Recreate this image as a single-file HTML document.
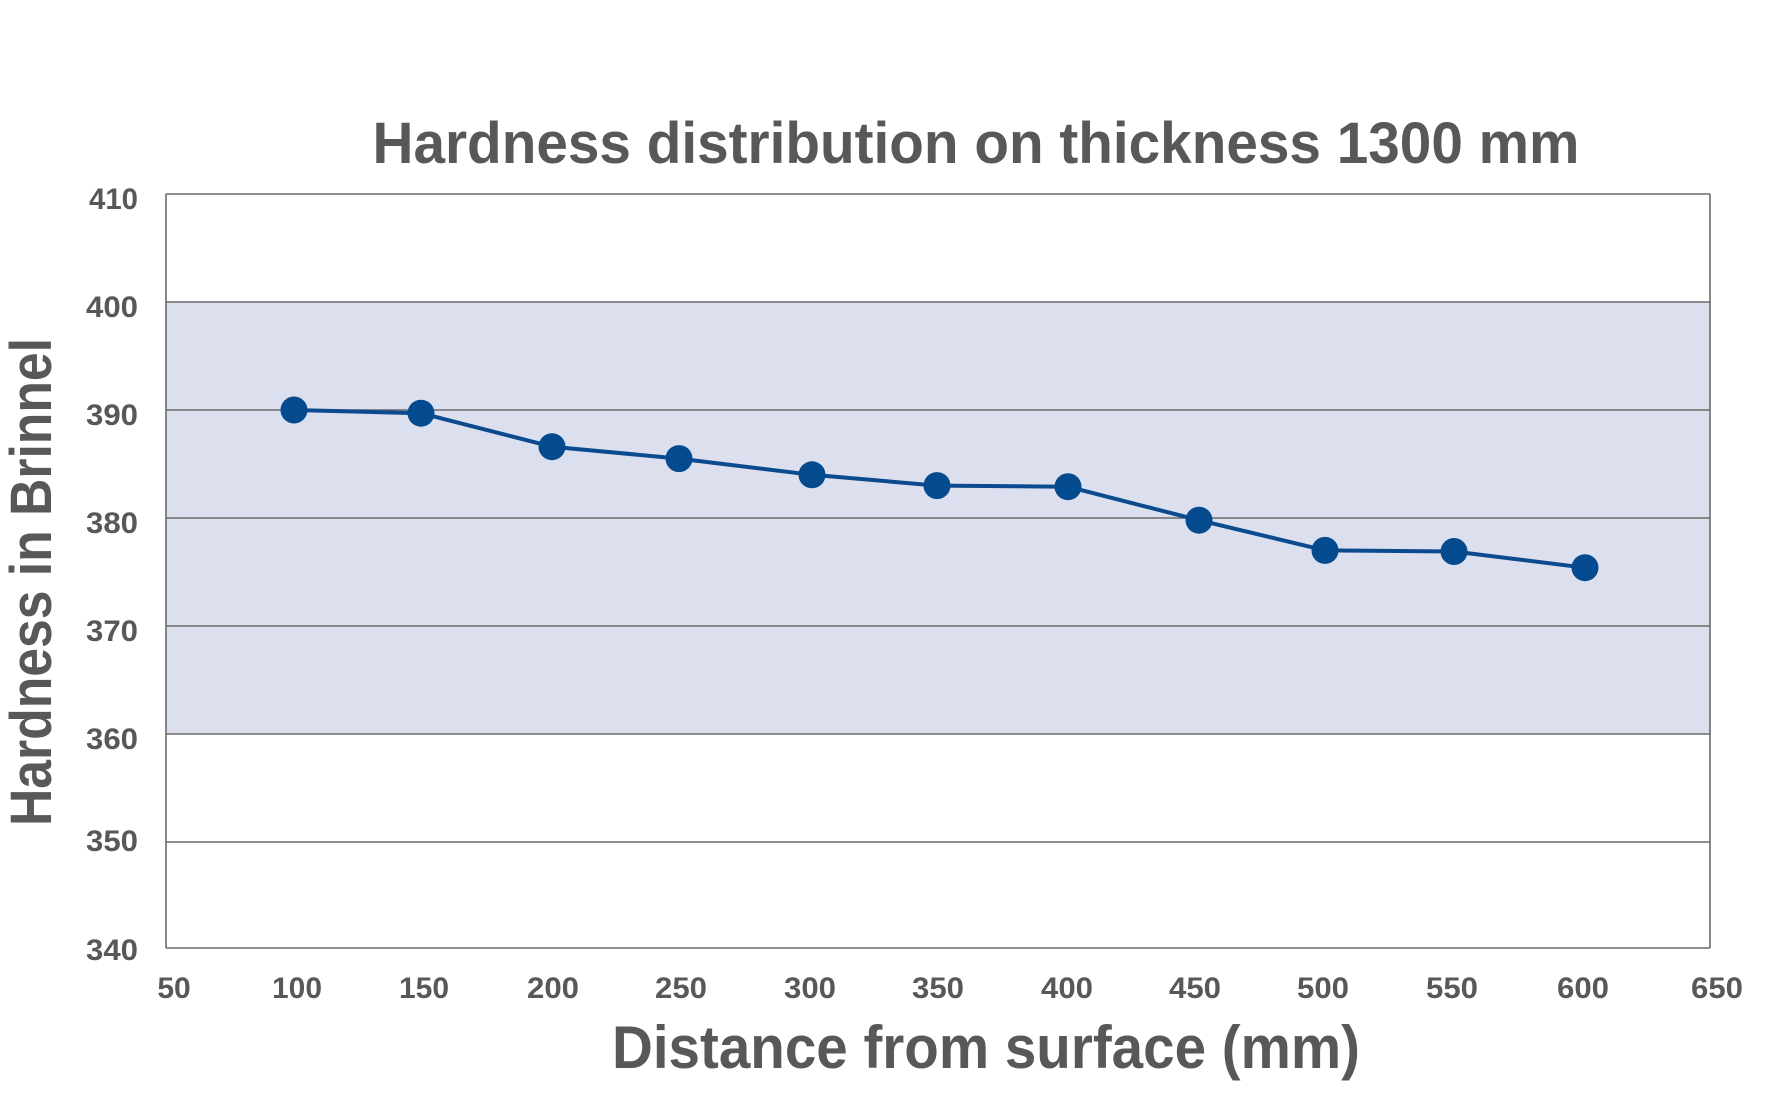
<!DOCTYPE html>
<html><head><meta charset="utf-8"><style>
html,body{margin:0;padding:0;background:#fff;}
svg{display:block;}
text{font-family:"Liberation Sans",sans-serif;font-weight:bold;fill:#58585a;}
</style></head><body>
<svg width="1771" height="1106" viewBox="0 0 1771 1106" xmlns="http://www.w3.org/2000/svg">
<rect x="166" y="302" width="1544" height="432" fill="#dcdfee"/>
<g stroke="#6a6a6a" stroke-width="1.6">
<line x1="166" y1="194" x2="1710" y2="194"/>
<line x1="166" y1="302" x2="1710" y2="302"/>
<line x1="166" y1="410" x2="1710" y2="410"/>
<line x1="166" y1="518" x2="1710" y2="518"/>
<line x1="166" y1="626" x2="1710" y2="626"/>
<line x1="166" y1="734" x2="1710" y2="734"/>
<line x1="166" y1="842" x2="1710" y2="842"/>
<line x1="166" y1="948" x2="1710" y2="948"/>
<line x1="166" y1="194" x2="166" y2="948"/>
<line x1="1710" y1="194" x2="1710" y2="948"/>
</g>
<text x="976" y="163" font-size="58" text-anchor="middle" textLength="1207" lengthAdjust="spacingAndGlyphs">Hardness distribution on thickness 1300 mm</text>
<g font-size="30" text-anchor="end">
<text x="138" y="209" textLength="49" lengthAdjust="spacingAndGlyphs">410</text>
<text x="138" y="317" textLength="52" lengthAdjust="spacingAndGlyphs">400</text>
<text x="138" y="425" textLength="52" lengthAdjust="spacingAndGlyphs">390</text>
<text x="138" y="533" textLength="52" lengthAdjust="spacingAndGlyphs">380</text>
<text x="138" y="641" textLength="52" lengthAdjust="spacingAndGlyphs">370</text>
<text x="138" y="749" textLength="52" lengthAdjust="spacingAndGlyphs">360</text>
<text x="138" y="851" textLength="52" lengthAdjust="spacingAndGlyphs">350</text>
<text x="138" y="960" textLength="52" lengthAdjust="spacingAndGlyphs">340</text>
</g>
<g font-size="30" text-anchor="middle">
<text x="174" y="998">50</text>
<text x="297" y="998" textLength="50" lengthAdjust="spacingAndGlyphs">100</text>
<text x="424" y="998" textLength="50" lengthAdjust="spacingAndGlyphs">150</text>
<text x="553" y="998" textLength="52" lengthAdjust="spacingAndGlyphs">200</text>
<text x="681" y="998" textLength="52" lengthAdjust="spacingAndGlyphs">250</text>
<text x="810" y="998" textLength="52" lengthAdjust="spacingAndGlyphs">300</text>
<text x="938" y="998" textLength="52" lengthAdjust="spacingAndGlyphs">350</text>
<text x="1067" y="998" textLength="52" lengthAdjust="spacingAndGlyphs">400</text>
<text x="1195" y="998" textLength="52" lengthAdjust="spacingAndGlyphs">450</text>
<text x="1323" y="998" textLength="52" lengthAdjust="spacingAndGlyphs">500</text>
<text x="1452" y="998" textLength="52" lengthAdjust="spacingAndGlyphs">550</text>
<text x="1583" y="998" textLength="52" lengthAdjust="spacingAndGlyphs">600</text>
<text x="1717" y="998" textLength="52" lengthAdjust="spacingAndGlyphs">650</text>
</g>
<text x="986" y="1068" font-size="60" text-anchor="middle" textLength="748" lengthAdjust="spacingAndGlyphs">Distance from surface (mm)</text>
<text transform="translate(51,582) rotate(-90)" x="0" y="0" font-size="58" text-anchor="middle" textLength="488" lengthAdjust="spacingAndGlyphs">Hardness in Brinnel</text>
<polyline fill="none" stroke="#0b4a8e" stroke-width="4" stroke-linejoin="round"
 points="294,410 421,413.2 552,446.7 679,458.6 812,474.8 937,485.6 1068,486.7 1199,520.2 1325,550.4 1454,551.5 1585,567.7"/>
<g fill="#034a8f">
<circle cx="294" cy="410" r="13.5"/>
<circle cx="421" cy="413.2" r="13.5"/>
<circle cx="552" cy="446.7" r="13.5"/>
<circle cx="679" cy="458.6" r="13.5"/>
<circle cx="812" cy="474.8" r="13.5"/>
<circle cx="937" cy="485.6" r="13.5"/>
<circle cx="1068" cy="486.7" r="13.5"/>
<circle cx="1199" cy="520.2" r="13.5"/>
<circle cx="1325" cy="550.4" r="13.5"/>
<circle cx="1454" cy="551.5" r="13.5"/>
<circle cx="1585" cy="567.7" r="13.5"/>
</g>
</svg>
</body></html>
